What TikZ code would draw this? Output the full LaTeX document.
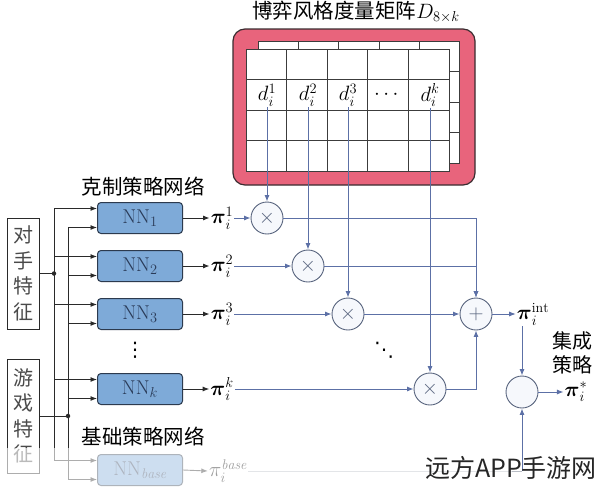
\documentclass[tikz,border=0pt]{standalone}
\usepackage{fontspec}
\usepackage{amsmath}
\usetikzlibrary{arrows.meta}
\newfontfamily\cjk{Noto Sans CJK SC}
\newfontfamily\symfont{DejaVu Sans}
\definecolor{color_mat_frame}{HTML}{E8647C}
\definecolor{color_mat_edge}{HTML}{3A2C30}
\definecolor{color_mat_grid}{HTML}{3C3C3C}
\definecolor{color_nn_fill}{HTML}{7EAAD8}
\definecolor{color_nn_edge}{HTML}{2C3A4E}
\definecolor{color_nn_text}{HTML}{2A3B58}
\definecolor{color_flow}{HTML}{5C70A6}
\definecolor{color_op_fill}{HTML}{F6F8FC}
\definecolor{color_op_edge}{HTML}{58647E}
\definecolor{color_wire}{HTML}{2A2A2A}
\definecolor{color_base_line}{HTML}{B8BCC4}
\def\cellw{40.6}
\def\cellh{30.5}
\def\inoffset{9.5pt}
\def\labelsize{\fontsize{20}{22}\selectfont}
\def\cjksize{\cjk\fontsize{20.5}{24}\selectfont}

\begin{document}
\begin{tikzpicture}[x=1pt,y=-1pt,
    nnbox/.style={draw=color_nn_edge,fill=color_nn_fill,rounded corners=3.5pt,line width=1pt,
        minimum width=85pt,minimum height=31pt,inner sep=0pt,text=color_nn_text,font=\fontsize{20}{22}\selectfont},
    featbox/.style={draw=color_wire,line width=1pt,minimum width=32pt,inner sep=0pt,align=center,
        font=\cjk\fontsize{20}{25.5}\selectfont,text=color_wire!85},
    op/.style={circle,draw=color_op_edge,fill=color_op_fill,line width=0.9pt,minimum size=32pt,inner sep=0pt,
        text=color_op_edge,font=\fontsize{20}{20}\selectfont},
    plabel/.style={inner sep=1pt,font=\labelsize},
    dots/.style={inner sep=0pt,font=\symfont\fontsize{20}{20}\selectfont},
    dot/.style={circle,fill=color_wire,inner sep=0pt,minimum size=4.5pt},
    tip/.style={-{Latex[length=6.5pt,width=5pt]}},
    wire/.style={color_wire,line width=0.9pt},
    flow/.style={color_flow,line width=0.9pt,tip}]
    \useasboundingbox (0,0) rectangle (600,488);

    % style matrix
    \draw[fill=color_mat_frame,draw=color_mat_edge,rounded corners=12pt,line width=1.2pt] (233,29) rectangle (475,185);
    \node[font=\cjksize,inner sep=0pt] (title) at (356,12) {博弈风格度量矩阵$D_{8\times k}$};
    \draw[fill=white,draw=color_mat_grid,line width=0.9pt] (258,41) rectangle (459,163);
    \foreach \x in {298,338,379,419}
        \draw[color_mat_grid,line width=0.9pt] (\x,41) -- (\x,49);
    \foreach \y in {71,102,132}
        \draw[color_mat_grid,line width=0.9pt] (449,\y) -- (459,\y);
    \draw[fill=white,draw=color_mat_grid,line width=0.9pt] (246,49) rectangle (449,171);
    \foreach \i in {1,2,3,4}
        \draw[color_mat_grid,line width=0.9pt] (246+\i*\cellw,49) -- (246+\i*\cellw,171);
    \foreach \j in {1,2,3}
        \draw[color_mat_grid,line width=0.9pt] (246,49+\j*\cellh) -- (449,49+\j*\cellh);
    \node[plabel] (d1) at (267,95) {$d_i^1$};
    \node[plabel] (d2) at (308,95) {$d_i^2$};
    \node[plabel] (d3) at (348,95) {$d_i^3$};
    \node[plabel] (dd) at (388,95) {$\cdots$};
    \node[plabel] (dk) at (430,95) {$d_i^k$};

    % feature boxes
    \node[featbox,minimum height=111pt] (opp) at (23,273.5) {对\\手\\特\\征};
    \node[featbox,minimum height=114pt] (game) at (23,416) {游\\戏\\特\\征};
    \coordinate (busA) at (54,0);
    \coordinate (busB) at (68,0);

    % policy networks
    \node[font=\cjksize,inner sep=0pt] (nntitle) at (143,187) {克制策略网络};
    \node[nnbox] (nn1) at (140,218) {NN$_1$};
    \node[nnbox] (nn2) at (140,266) {NN$_2$};
    \node[nnbox] (nn3) at (140,314) {NN$_3$};
    \node[dots] (vdots) at (135,350) {⋮};
    \node[nnbox] (nnk) at (140,389) {NN$_k$};
    \node[font=\cjksize,inner sep=0pt] (basetitle) at (143,437) {基础策略网络};
    \node[nnbox] (nnbase) at (140,470) {NN$_{\mathit{base}}$};

    \draw[wire] ([yshift=\inoffset]nn1.west -| busA) -- ([yshift=\inoffset]nnbase.west -| busA);
    \draw[wire] ([yshift=-\inoffset]nn1.west -| busB) -- ([yshift=-\inoffset]nnbase.west -| busB);
    \foreach \n in {nn1,nn2,nn3,nnk,nnbase}{
        \draw[wire,tip] ([yshift=\inoffset]\n.west -| busA) -- ([yshift=\inoffset]\n.west);
        \draw[wire,tip] ([yshift=-\inoffset]\n.west -| busB) -- ([yshift=-\inoffset]\n.west);
    }
    \draw[wire] (opp.east) -- (opp.east -| busA) node[dot] {};
    \draw[wire] (game.east) -- (game.east -| busB) node[dot] {};

    % policy outputs
    \node[plabel] (p1) at (222,218) {$\boldsymbol{\pi}_i^1$};
    \node[plabel] (p2) at (222,266) {$\boldsymbol{\pi}_i^2$};
    \node[plabel] (p3) at (222,314) {$\boldsymbol{\pi}_i^3$};
    \node[plabel] (pk) at (222,389) {$\boldsymbol{\pi}_i^k$};
    \node[plabel] (pbase) at (228,471) {$\pi_i^{\mathit{base}}$};
    \foreach \n/\p in {nn1/p1,nn2/p2,nn3/p3,nnk/pk,nnbase/pbase}
        \draw[wire,tip] (\n.east) -- (\p.west);

    % weighting
    \node[op] (m1) at (267,218) {$\times$};
    \node[op] (m2) at (308,266) {$\times$};
    \node[op] (m3) at (348,314) {$\times$};
    \node[op] (m4) at (430,389) {$\times$};
    \node[dots] (ddots) at (384,350) {⋱};
    \draw[flow] (d1) -- (m1);
    \draw[flow] (d2) -- (m2);
    \draw[flow] (d3) -- (m3);
    \draw[flow] (dk) -- (m4);
    \draw[flow] (p1) -- (m1);
    \draw[flow] (p2) -- (m2);
    \draw[flow] (p3) -- (m3);
    \draw[flow] (pk) -- (m4);

    % sum and ensemble
    \node[op] (sum) at (476,314) {$+$};
    \node[op] (comb) at (522,392) {};
    \draw[flow] (m1.east) -| (sum.north);
    \draw[flow] (m2.east) -| (sum.north);
    \draw[flow] (m3) -- (sum);
    \draw[flow] (m4.east) -| (sum.south);
    \node[plabel] (pint) at (533,314) {$\boldsymbol{\pi}_i^{\mathrm{int}}$};
    \node[plabel] (pstar) at (576,392) {$\boldsymbol{\pi}_i^{*}$};
    \node[font=\cjk\fontsize{20}{24}\selectfont,align=center,inner sep=0pt] (enstitle) at (572,353) {集成\\策略};
    \draw[flow] (sum) -- (pint);
    \draw[flow] (pint.south -| comb.north) -- (comb.north);
    \draw[flow] (comb) -- (pstar);
    \coordinate (bturn) at (comb.south |- pbase.east);
    \draw[color_base_line,line width=0.9pt] (pbase.east) -- (bturn);
    \draw[flow] (bturn) -- (comb.south);

    % faded bottom strip
    \fill[white,opacity=0.62] (0,448) rectangle (512,488);
    \node[font=\cjk\fontsize{25}{28}\selectfont,text=black!85,inner sep=0pt] (mark) at (511,468) {远方APP手游网};
\end{tikzpicture}
\end{document}
